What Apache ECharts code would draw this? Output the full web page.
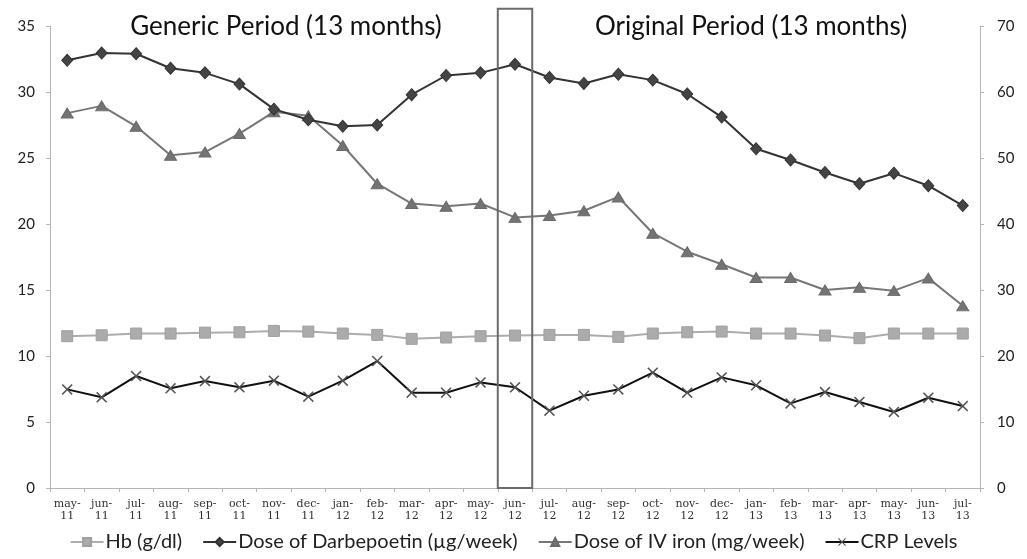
<!DOCTYPE html>
<html><head><meta charset="utf-8">
<script src="https://cdn.jsdelivr.net/npm/echarts@6/dist/echarts.min.js"></script>
<style>html,body{margin:0;padding:0;background:#fff}#c{width:1027px;height:559px}</style>
</head><body><div id="c"></div>
<script>
const categories = ['may-11','jun-11','jul-11','aug-11','sep-11','oct-11','nov-11','dec-11','jan-12','feb-12','mar-12','apr-12','may-12','jun-12','jul-12','aug-12','sep-12','oct-12','nov-12','dec-12','jan-13','feb-13','mar-13','apr-13','may-13','jun-13','jul-13'];
// left axis
const hb = [11.5,11.57,11.7,11.7,11.77,11.8,11.9,11.85,11.7,11.6,11.3,11.4,11.5,11.55,11.6,11.6,11.45,11.7,11.8,11.85,11.7,11.7,11.55,11.35,11.7,11.7,11.7];
const crp = [7.47,6.87,8.48,7.55,8.1,7.63,8.13,6.92,8.13,9.62,7.22,7.22,8.0,7.63,5.86,6.99,7.47,8.74,7.22,8.38,7.78,6.41,7.27,6.52,5.76,6.84,6.21];
// right axis
const darbepoetin = [64.8,65.9,65.8,63.6,62.9,61.2,57.4,55.8,54.8,55.0,59.6,62.5,62.9,64.2,62.2,61.3,62.7,61.8,59.7,56.2,51.4,49.7,47.8,46.1,47.7,45.8,42.8];
const ivIron = [56.8,57.9,54.8,50.4,50.9,53.7,57.0,56.4,51.9,46.1,43.1,42.7,43.1,41.0,41.3,42.0,44.1,38.6,35.8,33.9,31.9,31.9,30.0,30.4,29.9,31.8,27.6];
const leftTicks = {min:0, max:35, interval:5};
const rightTicks = {min:0, max:70, interval:10};
const periodTitles = ['Generic Period (13 months)','Original Period (13 months)'];
const boxCategory = 'jun-12';
const boxTopValue = 36.3;

const chart = echarts.init(document.getElementById('c'));
const xSymbol = 'path://M0,1 L1,0 L5,4 L9,0 L10,1 L6,5 L10,9 L9,10 L5,6 L1,10 L0,9 L4,5 Z';
const axisLineStyle = {lineStyle:{color:'#b5b5b5', width:1}};
chart.setOption({
  animation:false,
  grid:{left:50, right:47, top:26, bottom:71},
  legend:{
    bottom:2, left:'center', itemWidth:33, itemHeight:10, itemGap:20,
    textStyle:{fontFamily:'Lato', fontSize:20, color:'#222', padding:[0,0,0,-3]},
    data:['Hb (g/dl)','Dose of Darbepoetin (µg/week)','Dose of IV iron (mg/week)','CRP Levels']
  },
  xAxis:{
    type:'category', data:categories, boundaryGap:true,
    axisLine:axisLineStyle,
    axisTick:{show:true, alignWithLabel:false, length:4, lineStyle:{color:'#b5b5b5'}},
    axisLabel:{interval:0, margin:10, fontFamily:'DejaVu Serif', fontSize:11, color:'#333', lineHeight:12,
      formatter:v=>v.replace('-', '-\n')}
  },
  yAxis:[
    {type:'value', position:'left', min:leftTicks.min, max:leftTicks.max, interval:leftTicks.interval,
     axisLine:{show:true, ...axisLineStyle}, axisTick:{show:true, length:4, lineStyle:{color:'#b5b5b5'}},
     splitLine:{show:false}, axisLabel:{margin:15, fontFamily:'Lato', fontSize:15, color:'#222'}},
    {type:'value', position:'right', min:rightTicks.min, max:rightTicks.max, interval:rightTicks.interval,
     axisLine:{show:true, ...axisLineStyle}, axisTick:{show:true, length:4, lineStyle:{color:'#b5b5b5'}},
     splitLine:{show:false}, axisLabel:{margin:17, fontFamily:'Lato', fontSize:15, color:'#222'}}
  ],
  series:[
    {name:'Hb (g/dl)', type:'line', yAxisIndex:0, data:hb, symbol:'rect', symbolSize:11,
     lineStyle:{color:'#adadad', width:2}, itemStyle:{color:'#ababab', borderColor:'#a0a0a0', borderWidth:1}, z:2},
    {name:'Dose of Darbepoetin (µg/week)', type:'line', yAxisIndex:1, data:darbepoetin, symbol:'diamond', symbolSize:[11,12],
     lineStyle:{color:'#333', width:2}, itemStyle:{color:'#444', borderColor:'#333', borderWidth:1}, z:4},
    {name:'Dose of IV iron (mg/week)', type:'line', yAxisIndex:1, data:ivIron, symbol:'triangle', symbolSize:[12,10],
     lineStyle:{color:'#777', width:2}, itemStyle:{color:'#737373', borderColor:'#6a6a6a', borderWidth:1}, z:3},
    {name:'CRP Levels', type:'line', yAxisIndex:0, data:crp, symbol:xSymbol, symbolSize:11,
     lineStyle:{color:'#111', width:2}, itemStyle:{color:'#555'}, z:5}
  ]
});

function drawOverlays(){
  const xc = chart.convertToPixel({xAxisIndex:0}, boxCategory);
  const idx = categories.indexOf(boxCategory);
  const xn = chart.convertToPixel({xAxisIndex:0}, categories[idx+1]);
  const bw = xn - xc;
  const yTop = chart.convertToPixel({yAxisIndex:0}, boxTopValue);
  const yBot = chart.convertToPixel({yAxisIndex:0}, 0);
  const yT = chart.convertToPixel({yAxisIndex:0}, leftTicks.max) + 1;
  chart.setOption({graphic:[
    {type:'rect', shape:{x:xc-bw/2, y:yTop, width:bw, height:yBot-yTop}, style:{fill:null, stroke:'#6b6b6b', lineWidth:2}, z:10},
    {type:'text', x:286, y:yT, style:{text:periodTitles[0], align:'center', verticalAlign:'middle', font:'26px Lato', fill:'#111'}, z:10},
    {type:'text', x:751, y:yT, style:{text:periodTitles[1], align:'center', verticalAlign:'middle', font:'26px Lato', fill:'#111'}, z:10}
  ]});
}
drawOverlays();
</script>
</body></html>
